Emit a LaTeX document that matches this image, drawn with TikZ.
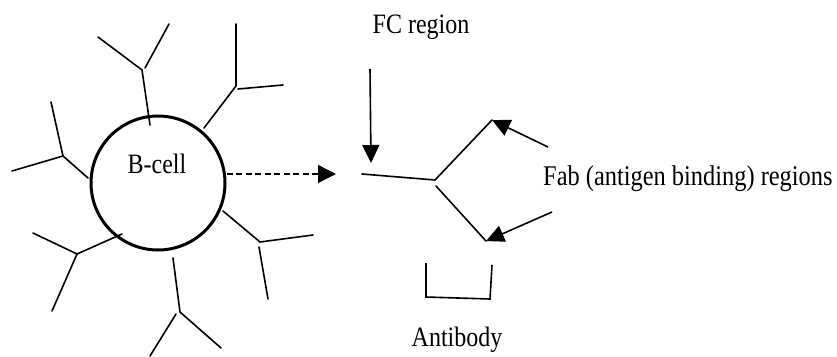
\documentclass[tikz,border=0pt]{standalone}
\usepackage{fontspec}
\usepackage{graphicx}
\setmainfont{Liberation Serif}
\usetikzlibrary{arrows.meta}
% slightly tall lettering
\newcommand{\tallword}[1]{\scalebox{1}[1.17]{#1}}
\begin{document}
\begin{tikzpicture}[x=1pt,y=-1pt,
  lbl/.style={font=\fontsize{24}{28}\selectfont, inner sep=0pt, anchor=base},
  ab/.style={line width=1.6pt, line cap=round},
  pointer/.style={line width=1.6pt, -{Triangle[length=18pt,width=17pt]}},
  cellwall/.style={circle, draw, line width=3pt, minimum size=134pt, inner sep=0pt}]
\useasboundingbox (0,0) rectangle (837,356);

% B-cell body and its label
\node[cellwall] (bcell) at (158,183) {};
\node[lbl] (bname) at (157,173) {\tallword{B-cell}};

% membrane-bound antibodies around the cell (stem, then the two arms)
\draw[ab] (150,125) -- (142,70) -- (98,37);
\draw[ab] (145,68) -- (169,24);
\draw[ab] (204,128) -- (236,86) -- (236,24);
\draw[ab] (238,89) -- (283,85);
\draw[ab] (88,178) -- (63,156) -- (51,102);
\draw[ab] (63,156) -- (12,171);
\draw[ab] (122,234) -- (77,254) -- (33,233);
\draw[ab] (77,254) -- (52,311);
\draw[ab] (173,258) -- (180,312) -- (221,348);
\draw[ab] (176,314) -- (150,356);
\draw[ab] (223,211) -- (260,242) -- (313,235);
\draw[ab] (259,247) -- (268,299);

% free antibody
\coordinate (fcend) at (362,174);
\coordinate (hinge) at (435,180);
\coordinate (fabup) at (492,120);
\coordinate (fablow) at (486,241);
\draw[ab] (fcend) -- (hinge) -- (fabup);
\draw[ab] (436,186) -- (fablow);

% secretion arrow from the cell to the antibody
\coordinate (secr) at (336,174);
\draw[line width=1.4pt, dash pattern=on 6pt off 3.5pt,
      -{Triangle[length=18pt,width=18pt]}] (bcell.east) ++(0,-9) -- (secr);

% FC region pointer
\node[lbl] (fc) at (421,33) {\tallword{FC region}};
\coordinate (fctop) at (370,69);
\draw[pointer] (fctop) -- (371,163);

% Fab pointers
\node[lbl, anchor=base west, font=\fontsize{24.4}{28}\selectfont] (fab) at (543,185)
  {\tallword{Fab (antigen binding) regions}};
\coordinate (fabsrc1) at (548,147);
\coordinate (fabsrc2) at (552,212);
\draw[pointer] (fabsrc1) -- (fabup);
\draw[pointer] (fabsrc2) -- (fablow);

% bracket under the antibody
\draw[line width=1.6pt] (426,263) -- (426,297) -- (490,299) -- (492,265);
\node[lbl] (abname) at (457,346) {\tallword{Antibody}};
\end{tikzpicture}
\end{document}
